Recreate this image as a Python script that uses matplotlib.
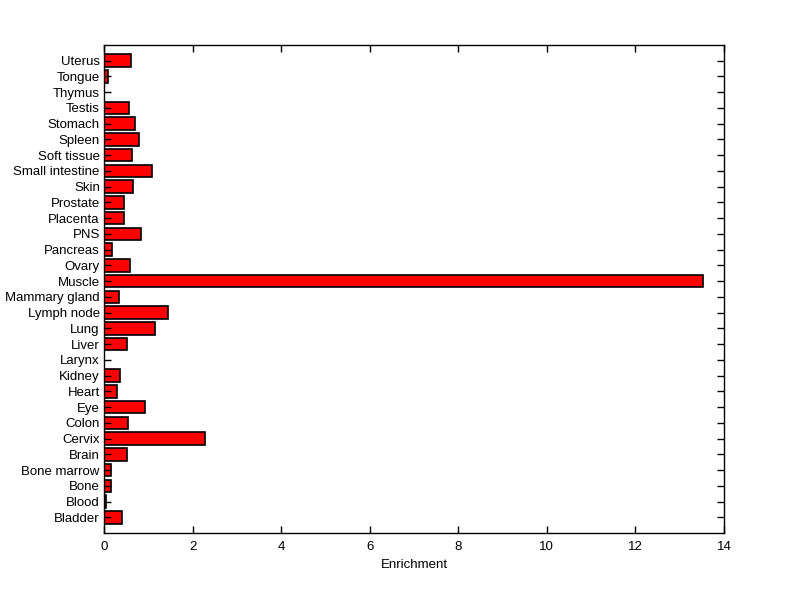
import matplotlib
matplotlib.use('Agg')
from matplotlib import pyplot as plt

tissues = ['Bladder', 'Blood', 'Bone', 'Bone marrow', 'Brain', 'Cervix', 'Colon',
           'Eye', 'Heart', 'Kidney', 'Larynx', 'Liver', 'Lung', 'Lymph node',
           'Mammary gland', 'Muscle', 'Ovary', 'Pancreas', 'PNS', 'Placenta',
           'Prostate', 'Skin', 'Small intestine', 'Soft tissue', 'Spleen',
           'Stomach', 'Testis', 'Thymus', 'Tongue', 'Uterus']
enrichment = [0.41, 0.05, 0.16, 0.16, 0.52, 2.29, 0.54,
              0.93, 0.29, 0.36, 0.0, 0.52, 1.15, 1.45,
              0.34, 13.53, 0.59, 0.18, 0.84, 0.45,
              0.45, 0.66, 1.09, 0.63, 0.79,
              0.70, 0.57, 0.0, 0.09, 0.62]
x_ticks = [0, 2, 4, 6, 8, 10, 12, 14]

plt.rcParams['font.family'] = ['Liberation Sans', 'DejaVu Sans']

fig = plt.figure(figsize=(8.0, 5.99), dpi=100)
ax = fig.add_axes([0.13, 0.11, 0.775, 0.815])

pos = list(range(1, len(tissues) + 1))
ax.barh(pos, enrichment, height=0.8, color='#ff0000', edgecolor='black', linewidth=1.2)

ax.set_xlim(0, 14)
ax.set_ylim(0, len(tissues) + 1)
ax.set_xticks(x_ticks)
ax.set_xticklabels([str(t) for t in x_ticks], fontsize=9.5)
ax.set_yticks(pos)
ax.set_yticklabels(tissues, fontsize=9.5)
ax.tick_params(direction='in', length=5, width=1, top=True, right=True)
ax.tick_params(axis='x', pad=6)
ax.tick_params(axis='y', pad=3)
ax.set_xlabel('Enrichment', fontsize=9.5, labelpad=4)
for s in ax.spines.values():
    s.set_linewidth(1)

fig.savefig('out.png', dpi=100)
